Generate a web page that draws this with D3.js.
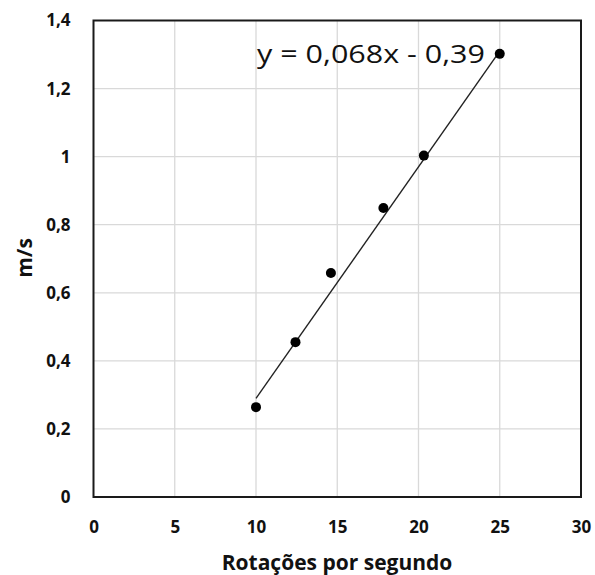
<!DOCTYPE html>
<html><head><meta charset="utf-8">
<script src="https://cdn.jsdelivr.net/npm/d3@7"></script>
<style>body{margin:0;background:#fff;} svg{display:block;}</style>
</head><body>
<svg id="c" width="595" height="575"></svg>
<script>
const xValues = [10, 12.43, 14.61, 17.84, 20.33, 25.0];
const yValues = [0.264, 0.455, 0.658, 0.849, 1.003, 1.302];
const trendSlope = 0.068, trendIntercept = -0.39;
const trendRange = [10, 25];
const xTicks = [0, 5, 10, 15, 20, 25, 30];
const yTicks = [0, 0.2, 0.4, 0.6, 0.8, 1, 1.2, 1.4];
const equationLabel = "y = 0,068x - 0,39";
const xTitle = "Rotações por segundo";
const yTitle = "m/s";

const svg = d3.select("#c");
const L = 93.5, R = 581, T = 20.5, B = 497;
const x = d3.scaleLinear().domain([0, 30]).range([L, R]);
const y = d3.scaleLinear().domain([0, 1.4]).range([B, T]);
const fmt = v => String(+v.toFixed(1)).replace(".", ",");
const font = "'Open Sans', sans-serif";

// gridlines
svg.append("g").selectAll("line.v").data(xTicks.slice(1, -1)).join("line")
  .attr("x1", d => x(d)).attr("x2", d => x(d)).attr("y1", T).attr("y2", B)
  .attr("stroke", "#d9d9d9").attr("stroke-width", 1.3);
svg.append("g").selectAll("line.h").data(yTicks.slice(1, -1)).join("line")
  .attr("x1", L).attr("x2", R).attr("y1", d => y(d)).attr("y2", d => y(d))
  .attr("stroke", "#d9d9d9").attr("stroke-width", 1.3);

// frame
svg.append("rect").attr("x", L).attr("y", T).attr("width", R - L).attr("height", B - T)
  .attr("fill", "none").attr("stroke", "#1a1a1a").attr("stroke-width", 2);

// axes labels via d3 axes
const xAxis = svg.append("g").attr("transform", `translate(0,${B})`)
  .call(d3.axisBottom(x).tickValues(xTicks).tickFormat(d => fmt(d)).tickSize(0).tickPadding(24));
const yAxis = svg.append("g").attr("transform", `translate(${L},0)`)
  .call(d3.axisLeft(y).tickValues(yTicks).tickFormat(d => fmt(d)).tickSize(0).tickPadding(23));
[xAxis, yAxis].forEach(a => {
  a.select(".domain").remove();
  a.selectAll("text").attr("font-family", font).attr("font-weight", "bold")
    .attr("font-size", 17).attr("fill", "#111");
});

// trendline
svg.append("line")
  .attr("x1", x(trendRange[0])).attr("y1", y(trendSlope * trendRange[0] + trendIntercept))
  .attr("x2", x(trendRange[1])).attr("y2", y(trendSlope * trendRange[1] + trendIntercept))
  .attr("stroke", "#222").attr("stroke-width", 1.4);

// points
svg.append("g").selectAll("circle").data(xValues.map((v, i) => [v, yValues[i]])).join("circle")
  .attr("cx", d => x(d[0])).attr("cy", d => y(d[1])).attr("r", 5).attr("fill", "#000");

// equation
svg.append("text").attr("x", 257).attr("y", 63).attr("font-family", font)
  .attr("font-size", 25).attr("fill", "#111")
  .attr("textLength", 228).attr("lengthAdjust", "spacingAndGlyphs").text(equationLabel);

// titles
svg.append("text").attr("x", 337).attr("y", 570).attr("text-anchor", "middle")
  .attr("font-family", font).attr("font-weight", "bold").attr("font-size", 21).attr("fill", "#111")
  .text(xTitle);
svg.append("text").attr("transform", "translate(32,258) rotate(-90)").attr("text-anchor", "middle")
  .attr("font-family", font).attr("font-weight", "bold").attr("font-size", 21).attr("fill", "#111")
  .text(yTitle);
</script>
</body></html>
